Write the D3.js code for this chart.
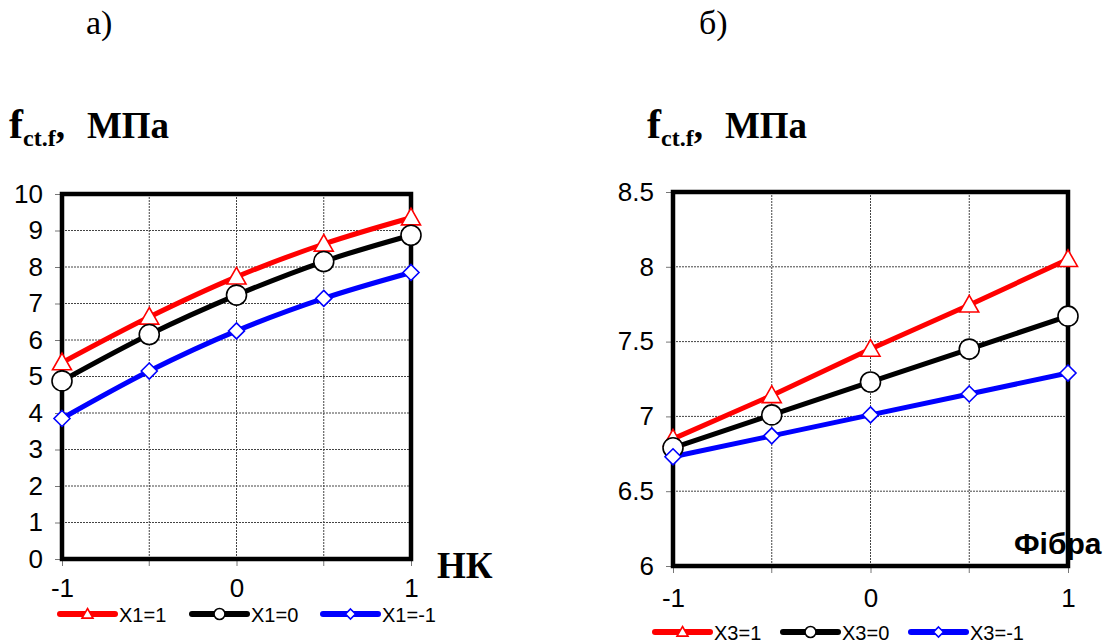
<!DOCTYPE html>
<html>
<head>
<meta charset="utf-8">
<script src="https://cdn.jsdelivr.net/npm/d3@7"></script>
<style>
  html, body { margin: 0; padding: 0; background: #fff; }
  svg { display: block; }
</style>
</head>
<body>
<svg id="chart" width="1120" height="644"></svg>
<script>
// Factor levels on the x axis (coded values)
const xLevels = [-1, -0.5, 0, 0.5, 1];
const xTickValues = [-1, 0, 1];

// Panel а): strength vs НК for three levels of X1
const leftYTicks = [0, 1, 2, 3, 4, 5, 6, 7, 8, 9, 10];
const leftSeriesNames = ["X1=1", "X1=0", "X1=-1"];
const leftHigh = [5.38, 6.63, 7.73, 8.63, 9.35];
const leftMid  = [4.88, 6.15, 7.23, 8.15, 8.87];
const leftLow  = [3.85, 5.15, 6.25, 7.14, 7.85];

// Panel б): strength vs fibre content for three levels of X3
const rightYTicks = [6, 6.5, 7, 7.5, 8, 8.5];
const rightSeriesNames = ["X3=1", "X3=0", "X3=-1"];
const rightHigh = [6.85, 7.14, 7.45, 7.745, 8.05];
const rightMid  = [6.79, 7.01, 7.23, 7.45, 7.67];
const rightLow  = [6.73, 6.87, 7.01, 7.15, 7.29];

const seriesStyles = [
  { color: "#ff0000", marker: "triangle" },
  { color: "#000000", marker: "circle" },
  { color: "#0000ff", marker: "diamond" }
];

const svg = d3.select("#chart");
const sansFont = "'Liberation Sans', Arial, sans-serif";
const serifFont = "'Liberation Serif', 'Times New Roman', serif";
const plainNumber = d => String(d);

function markerPath(type, s) {
  if (type === "triangle") {
    return `M0,${-s}L${s},${s * 0.75}L${-s},${s * 0.75}Z`;
  }
  if (type === "diamond") {
    return `M0,${-s}L${s},0L0,${s}L${-s},0Z`;
  }
  return null;
}

function drawMarker(g, type, x, y, color, s) {
  if (type === "circle") {
    g.append("circle").attr("cx", x).attr("cy", y).attr("r", s)
      .attr("fill", "#fff").attr("stroke", color).attr("stroke-width", 1.6);
  } else {
    g.append("path").attr("d", markerPath(type, s))
      .attr("transform", `translate(${x},${y})`)
      .attr("fill", "#fff").attr("stroke", color).attr("stroke-width", 1.6);
  }
}

function drawPanel(cfg) {
  const g = svg.append("g");
  const x = d3.scaleLinear().domain([-1, 1]).range([cfg.left, cfg.right]);
  const y = d3.scaleLinear().domain(cfg.yDomain).range([cfg.bottom, cfg.top]);

  // grid
  const grid = g.append("g");
  grid.selectAll("line.h").data(cfg.yTicks.slice(1, -1)).join("line")
    .attr("x1", cfg.left).attr("x2", cfg.right)
    .attr("y1", d => y(d)).attr("y2", d => y(d))
    .attr("stroke", "#444").attr("stroke-width", 1).attr("stroke-dasharray", "2,1");
  grid.selectAll("line.v").data(xLevels.slice(1, -1)).join("line")
    .attr("y1", cfg.top).attr("y2", cfg.bottom)
    .attr("x1", d => x(d)).attr("x2", d => x(d))
    .attr("stroke", "#444").attr("stroke-width", 1).attr("stroke-dasharray", "2,1");

  // axes
  const yAxis = d3.axisLeft(y).tickValues(cfg.yTicks).tickSize(7)
    .tickPadding(cfg.yPad).tickFormat(plainNumber);
  const ya = g.append("g").attr("transform", `translate(${cfg.left},0)`).call(yAxis);
  const xAxis = d3.axisBottom(x).tickValues(xTickValues).tickSize(7)
    .tickPadding(cfg.xPad).tickFormat(plainNumber);
  const xa = g.append("g").attr("transform", `translate(0,${cfg.bottom})`).call(xAxis);
  [ya, xa].forEach(a => {
    a.select(".domain").remove();
    a.selectAll(".tick line").attr("stroke", "#777").attr("stroke-width", 1);
    a.selectAll(".tick text").attr("fill", "#000")
      .style("font-family", sansFont).style("font-size", "26px");
  });
  // extra ticks at the half levels on the x axis
  g.append("g").selectAll("line").data(xLevels.filter(v => !xTickValues.includes(v))).join("line")
    .attr("x1", d => x(d)).attr("x2", d => x(d))
    .attr("y1", cfg.bottom).attr("y2", cfg.bottom + 7)
    .attr("stroke", "#777").attr("stroke-width", 1);

  // frame
  g.append("rect").attr("x", cfg.left).attr("y", cfg.top)
    .attr("width", cfg.right - cfg.left).attr("height", cfg.bottom - cfg.top)
    .attr("fill", "none").attr("stroke", "#000").attr("stroke-width", 4.5);

  // series
  const line = d3.line().x((d, i) => x(xLevels[i])).y(d => y(d)).curve(cfg.curve);
  cfg.series.forEach((vals, k) => {
    g.append("path").attr("d", line(vals)).attr("fill", "none")
      .attr("stroke", seriesStyles[k].color).attr("stroke-width", 5)
      .attr("stroke-linejoin", "round");
  });
  cfg.series.forEach((vals, k) => {
    const st = seriesStyles[k];
    const size = st.marker === "circle" ? 10 : (st.marker === "triangle" ? 9.5 : 8);
    vals.forEach((v, i) => drawMarker(g, st.marker, x(xLevels[i]), y(v), st.color, size));
  });

  // y title: f_ct.f, МПа
  const t = g.append("text").attr("x", cfg.titleX).attr("y", cfg.titleY)
    .style("font-family", serifFont).style("font-weight", "bold").attr("fill", "#000");
  t.append("tspan").style("font-size", "42px").text("f");
  t.append("tspan").style("font-size", "24px").attr("dy", 8).text("ct.f");
  t.append("tspan").style("font-size", "37px").attr("dy", -8).text(",");
  t.append("tspan").style("font-size", "37px").attr("dx", 22).text("МПа");

  // panel letter
  g.append("text").attr("x", cfg.letterX).attr("y", 34)
    .style("font-family", serifFont).style("font-size", "34px").attr("fill", "#000")
    .text(cfg.letter);

  // x axis title
  g.append("text").attr("x", cfg.xTitleX).attr("y", cfg.xTitleY)
    .style("font-family", cfg.xTitleFont).style("font-weight", "bold")
    .style("font-size", cfg.xTitleSize).attr("fill", "#000").text(cfg.xTitle);

  // legend
  const lg = g.append("g");
  cfg.legendX.forEach((lx, k) => {
    const st = seriesStyles[k];
    lg.append("line").attr("x1", lx).attr("x2", lx + 55)
      .attr("y1", cfg.legendY).attr("y2", cfg.legendY)
      .attr("stroke", st.color).attr("stroke-width", 6).attr("stroke-linecap", "round");
    const ms = st.marker === "circle" ? 5.5 : (st.marker === "triangle" ? 5.5 : 5);
    drawMarker(lg, st.marker, lx + 27.5, cfg.legendY, st.color, ms);
    lg.append("text").attr("x", lx + 59).attr("y", cfg.legendY + 7.5)
      .style("font-family", sansFont).style("font-size", "20px").attr("fill", "#000")
      .text(cfg.names[k]);
  });
}

drawPanel({
  left: 62, right: 411, top: 194, bottom: 559,
  yDomain: [0, 10], yTicks: leftYTicks, yPad: 12, xPad: 13,
  series: [leftHigh, leftMid, leftLow], names: leftSeriesNames,
  curve: d3.curveMonotoneX,
  titleX: 9, titleY: 138, letter: "а)", letterX: 86,
  xTitle: "НК", xTitleFont: serifFont, xTitleSize: "37px", xTitleX: 437, xTitleY: 578,
  legendX: [60, 192, 323], legendY: 614
});

drawPanel({
  left: 673, right: 1068, top: 192, bottom: 566,
  yDomain: [6, 8.5], yTicks: rightYTicks, yPad: 12, xPad: 16,
  series: [rightHigh, rightMid, rightLow], names: rightSeriesNames,
  curve: d3.curveLinear,
  titleX: 647, titleY: 138, letter: "б)", letterX: 699,
  xTitle: "Фібра", xTitleFont: sansFont, xTitleSize: "30px", xTitleX: 1014, xTitleY: 554,
  legendX: [655, 783, 911], legendY: 632
});
</script>
</body>
</html>
